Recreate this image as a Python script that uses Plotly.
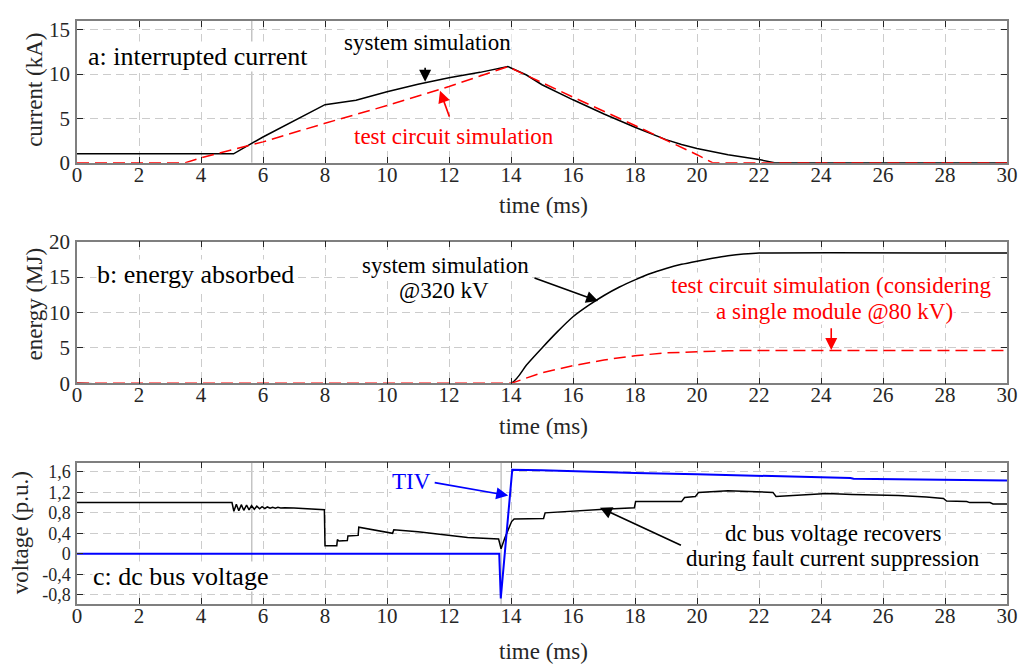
import plotly.graph_objects as go

# ---------------- data ----------------
# panel a: interrupted current (kA)
ta_sys = [0, 5.05, 6, 7, 8, 8.5, 9, 10, 11, 12, 13, 13.9, 14.5, 15, 16, 17, 18, 19, 19.5, 20, 21, 22, 22.5, 30]
ia_sys = [1.0, 1.0, 2.9, 4.75, 6.55, 6.8, 7.05, 8.0, 8.85, 9.6, 10.2, 10.85, 9.9, 8.8, 7.1, 5.5, 4.0, 2.6, 2.05, 1.6, 0.9, 0.35, 0, 0]
ta_test = [0, 3.5, 4.0, 4.5, 6, 8, 10, 12, 13.9, 16, 18, 20, 20.5, 30]
ia_test = [0, 0, 0.55, 1.0, 2.35, 4.45, 6.45, 8.6, 10.85, 7.4, 4.2, 0.9, 0, 0]

# panel b: energy absorbed (MJ)
tb_sys = [0, 14, 14.5, 15, 15.5, 16, 16.5, 17, 17.5, 18, 18.5, 19, 19.5, 20, 20.5, 21, 21.5, 22, 30]
eb_sys = [0, 0, 2.6, 5.0, 7.3, 9.4, 11.0, 12.4, 13.6, 14.6, 15.5, 16.2, 16.8, 17.25, 17.65, 18.0, 18.25, 18.4, 18.4]
tb_test = [0, 14, 15, 16, 17, 18, 19, 20, 21, 22, 30]
eb_test = [0, 0, 1.5, 2.5, 3.3, 3.9, 4.3, 4.5, 4.6, 4.65, 4.65]

# panel c: dc bus voltage (p.u.)
tc_bus = [0, 5.0, 5.06, 5.14, 5.22, 5.30, 5.38, 5.47, 5.55, 5.63, 5.72, 5.80, 5.89, 5.97, 6.06, 6.14,
          6.23, 6.31, 6.40, 6.48, 6.57, 6.7, 7.0, 7.5, 7.98, 8.0, 8.38, 8.4, 8.45, 8.72, 8.74, 9.07,
          9.09, 10.18, 10.22, 11, 12, 12.6, 13.6, 13.68, 13.8, 14.02, 14.1, 15.05, 15.1, 16, 17,
          17.98, 18.02, 19.5, 19.6, 19.95, 20.05, 21, 21.5, 22.45, 22.55, 23.5, 24.2, 25, 26.5,
          27.4, 27.95, 28.05, 28.7, 28.8, 29.45, 29.55, 30]
vc_bus = [1.0, 1.0, 0.83, 0.97, 0.84, 0.96, 0.85, 0.95, 0.86, 0.94, 0.87, 0.93, 0.88, 0.92, 0.885, 0.915,
          0.89, 0.91, 0.893, 0.907, 0.895, 0.9, 0.895, 0.88, 0.86, 0.16, 0.16, 0.28, 0.25, 0.26, 0.35, 0.36,
          0.52, 0.40, 0.47, 0.43, 0.37, 0.32, 0.29, 0.1, 0.31, 0.63, 0.68, 0.69, 0.8, 0.84, 0.87,
          0.9, 1.02, 1.02, 1.1, 1.12, 1.2, 1.23, 1.22, 1.2, 1.12, 1.16, 1.18, 1.16, 1.14,
          1.11, 1.08, 1.03, 1.02, 1.0, 1.0, 0.975, 0.975]
tc_tiv = [0, 13.62, 13.67, 14.04, 15, 16, 18, 20, 22.45, 22.55, 24.95, 25.05, 27.3, 27.4, 30]
vc_tiv = [0, 0, -0.87, 1.64, 1.63, 1.61, 1.58, 1.555, 1.52, 1.505, 1.48, 1.465, 1.45, 1.435, 1.43]

x_ticks = list(range(0, 31, 2))
ya_ticks = [0, 5, 10, 15]
yb_ticks = [0, 5, 10, 15, 20]
yc_ticks = [-0.8, -0.4, 0, 0.4, 0.8, 1.2, 1.6]
yc_ticktext = ["-0,8", "-0,4", "0", "0,4", "0,8", "1,2", "1,6"]
cursor_a = [5.64]
cursor_c = [5.64, 13.68]

# ---------------- style ----------------
FONT = "'Liberation Serif', 'Times New Roman', Times, serif"
TXT = "#262626"
GRID = "#cccccc"
FRAME = "#7f7f7f"
RED = "#ff0000"
BLUE = "#0000ff"

fig = go.Figure()

fig.add_trace(go.Scatter(x=ta_sys, y=ia_sys, mode="lines", line=dict(color="black", width=1.5),
                         xaxis="x", yaxis="y"))
fig.add_trace(go.Scatter(x=ta_test, y=ia_test, mode="lines", line=dict(color=RED, width=1.5, dash="12px,6px"),
                         xaxis="x", yaxis="y"))
fig.add_trace(go.Scatter(x=tb_sys, y=eb_sys, mode="lines", line=dict(color="black", width=1.5, shape="spline", smoothing=0.6),
                         xaxis="x2", yaxis="y2"))
fig.add_trace(go.Scatter(x=tb_test, y=eb_test, mode="lines", line=dict(color=RED, width=1.5, dash="12px,6px"),
                         xaxis="x2", yaxis="y2"))
fig.add_trace(go.Scatter(x=tc_bus, y=vc_bus, mode="lines", line=dict(color="black", width=1.5),
                         xaxis="x3", yaxis="y3"))
fig.add_trace(go.Scatter(x=tc_tiv, y=vc_tiv, mode="lines", line=dict(color=BLUE, width=2),
                         xaxis="x3", yaxis="y3"))

def xax(anchor):
    return dict(range=[0, 30], tickvals=x_ticks, ticks="inside", ticklen=6, tickwidth=1, tickcolor=TXT,
                mirror="allticks", showline=True, linecolor=FRAME, linewidth=1.5,
                showgrid=True, gridcolor=GRID, griddash="8px,5px", gridwidth=1,
                zeroline=False, anchor=anchor, tickfont=dict(family=FONT, size=21, color=TXT),
                ticklabelstandoff=-8)

def yax(rng, tv, dom, anchor, tt=None, fs=21):
    d = dict(range=rng, tickvals=tv, ticks="inside", ticklen=6, tickwidth=1, tickcolor=TXT,
             mirror="allticks", showline=True, linecolor=FRAME, linewidth=1.5,
             showgrid=True, gridcolor=GRID, griddash="8px,5px", gridwidth=1,
             zeroline=False, anchor=anchor, domain=dom, tickfont=dict(family=FONT, size=fs, color=TXT),
             ticklabelstandoff=1)
    if tt is not None:
        d["ticktext"] = tt
    return d

fig.update_layout(
    width=1027, height=665,
    margin=dict(l=77, r=19, t=9, b=61),
    paper_bgcolor="white", plot_bgcolor="white",
    showlegend=False,
    font=dict(family=FONT, color=TXT),
    xaxis=xax("y"), xaxis2=xax("y2"), xaxis3=xax("y3"),
    yaxis=yax([0, 16], ya_ticks, [0.757, 1.0], "x"),
    yaxis2=yax([0, 20], yb_ticks, [0.3785, 0.6215], "x2"),
    yaxis3=yax([-0.98, 1.78], yc_ticks, [0.0, 0.2424], "x3", yc_ticktext, fs=18),
)

# extra vertical cursor lines
for xv in cursor_a:
    fig.add_shape(type="line", xref="x", yref="y domain", x0=xv, x1=xv, y0=0, y1=1,
                  line=dict(color="#a8a8a8", width=1), layer="below")
for xv in cursor_c:
    fig.add_shape(type="line", xref="x3", yref="y3 domain", x0=xv, x1=xv, y0=0, y1=1,
                  line=dict(color="#a8a8a8", width=1), layer="below")

ann = []

def text(xr, yr, x, y, s, size=23, color="black", xanchor="center", bg="white"):
    ann.append(dict(xref=xr, yref=yr, x=x, y=y, text=s, showarrow=False, xanchor=xanchor, yanchor="middle",
                    font=dict(family=FONT, size=size, color=color), bgcolor=bg, borderpad=0))

def arrow(xr, yr, x, y, ax, ay, color="black"):
    ann.append(dict(xref=xr, yref=yr, x=x, y=y, ax=ax, ay=ay, axref=xr, ayref=yr, text="",
                    showarrow=True, arrowhead=2, arrowsize=1.5, arrowwidth=1.6, arrowcolor=color))

# panel a
text("x", "y", 0.33, 12.0, "a: interrupted current", size=26, xanchor="left")
text("x", "y", 11.32, 13.6, "system simulation")
arrow("x", "y", 11.23, 9.15, 11.23, 10.9)
text("x", "y", 12.16, 2.95, "test circuit simulation", color=RED)
arrow("x", "y", 11.71, 8.13, 12.03, 5.03, RED)

# panel b
text("x2", "y2", 0.6, 15.3, "b: energy absorbed", size=26, xanchor="left")
text("x2", "y2", 11.9, 16.7, "system simulation")
text("x2", "y2", 11.85, 13.1, "@320 kV")
arrow("x2", "y2", 16.81, 11.61, 14.71, 14.93)
text("x2", "y2", 24.34, 13.8, "test circuit simulation (considering", color=RED)
text("x2", "y2", 24.44, 10.2, "a single module @80 kV)", color=RED)
arrow("x2", "y2", 24.33, 4.7, 24.33, 8.0, RED)

# panel c
text("x3", "y3", 0.49, -0.44, "c: dc bus voltage", size=26, xanchor="left")
text("x3", "y3", 10.8, 1.415, "TIV", color=BLUE)
arrow("x3", "y3", 13.91, 1.14, 11.49, 1.396, BLUE)
text("x3", "y3", 24.4, 0.40, "dc bus voltage recovers")
text("x3", "y3", 24.39, -0.1, "during fault current suppression")
arrow("x3", "y3", 16.87, 0.9, 19.53, 0.153)

# axis titles
for xr, yr, ysh in [("x", "y", -43), ("x2", "y2", -43), ("x3", "y3", -47)]:
    ann.append(dict(xref=xr, yref=yr + " domain", x=15.06, y=0, yshift=ysh, text="time (ms)",
                    showarrow=False, xanchor="center", yanchor="middle",
                    font=dict(family=FONT, size=23, color=TXT)))
for yr, title, xsh, ysh in [("y", "current (kA)", -42, 2), ("y2", "energy (MJ)", -43, 8),
                            ("y3", "voltage (p.u.)", -57, 0)]:
    ann.append(dict(xref="paper", yref=yr + " domain", x=0, y=0.5, xshift=xsh, yshift=ysh, text=title,
                    textangle=-90, showarrow=False, xanchor="center", yanchor="middle",
                    font=dict(family=FONT, size=23, color=TXT)))

fig.update_layout(annotations=ann)
fig.write_html("out.html")
